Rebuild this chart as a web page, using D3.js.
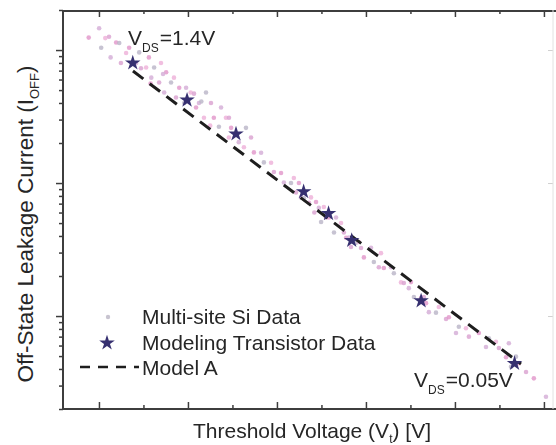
<!DOCTYPE html>
<html><head><meta charset="utf-8">
<script src="https://cdn.jsdelivr.net/npm/d3@7"></script>
<style>
html,body{margin:0;padding:0;background:#fff;}
svg{display:block;font-family:"Liberation Sans",Arial,Helvetica,sans-serif;}
</style>
</head><body>
<svg id="c" width="556" height="445"></svg>
<script>
// Multi-site Si data: threshold voltage (V) and off-state leakage (nA, arbitrary decade)
const siVt = [0.0885,0.1002,0.1025,0.1071,0.1113,0.1193,0.1131,0.1228,0.1305,0.1247,
  0.1339,0.1418,0.1452,0.1530,0.1472,0.1561,0.1588,0.1620,0.1697,0.1676,
  0.1755,0.1733,0.1810,0.1843,0.1866,0.1902,0.1979,0.1958,0.2031,0.2068,
  0.2091,0.2124,0.2203,0.2180,0.2259,0.2291,0.2372,0.2348,0.2427,0.2461,
  0.2485,0.2571,0.2652,0.2629,0.2709,0.2741,0.2822,0.2853,0.2934,0.2966,
  0.3046,0.3078,0.3158,0.3190,0.3214,0.3247,0.3270,0.3303,0.3383,0.3360,
  0.3439,0.3471,0.3496,0.3527,0.3551,0.3584,0.3664,0.3641,0.3720,0.3752,
  0.3777,0.3808,0.3889,0.3921,0.3945,0.3977,0.4057,0.4089,0.4169,0.4145,
  0.4201,0.4282,0.4314,0.4394,0.4426,0.4506,0.4482,0.4539,0.4619,0.4651,
  0.4675,0.4707,0.4787,0.4819,0.4900,0.4932,0.5012,0.5044,0.5124,0.5157,
  0.5269,0.5349,0.5381,0.5461,0.5494,0.5574,0.5606,0.5686,0.5718,0.5799,
  0.5887,0.6023,0.5630,0.2460,0.3832,0.1580,0.1720,0.2150,0.2250,0.3420];
const siIoff = [124,146,104,123,126,114,88,113,95,80,
  104,80,96,74,73,88,62,74,80,57,
  68,48,57,62,44,52,52,40,48,47,
  37,40,48,31,40,31,37,26.5,31,31,
  26,20.3,26,18.6,22,17,16.9,14.3,14.2,12.1,
  11.9,10.1,10.0,10.9,8.5,10.0,7.8,7.7,7.8,7.1,
  7.2,6.5,5.1,6.6,5.5,5.5,5.5,4.25,5.0,4.25,
  3.88,3.9,3.55,3.6,3.25,2.76,3.26,2.55,2.97,2.33,
  2.3,2.33,2.1,1.79,1.77,1.8,1.62,1.39,1.37,1.39,
  1.25,1.07,1.06,1.17,0.95,0.98,0.745,0.83,0.81,0.70,
  0.745,0.585,0.68,0.64,0.575,0.49,0.625,0.495,0.44,0.38,
  0.34,0.247,0.415,22,3.3,56,66,41,27,6.0];

// Modeling transistor data
const starVt = [0.138,0.199,0.254,0.330,0.358,0.384,0.462,0.567];
const starIoff = [80,42,23.4,8.6,5.9,3.7,1.30,0.44];

// Model A (straight line on log axis)
const modelVt = [0.1382,0.5742];
const modelIoff = [69.5,0.436];

// Ticks (no tick labels shown in the original)
const xMajor = [0.1,0.2,0.3,0.4,0.5,0.6];
const xMinor = [0.15,0.25,0.35,0.45,0.55];
const yMajor = [1,10,100];
const yMinor = [0.2,0.3,0.4,0.5,0.6,0.7,0.8,0.9,2,3,4,5,6,7,8,9,20,30,40,50,60,70,80,90,200];

const legendLabels = ["Multi-site Si Data","Modeling Transistor Data","Model A"];

const svg = d3.select("#c");
const L = 63, R = 553, T = 10, B = 409;
const x = d3.scaleLinear().domain([0.0596, 0.6102]).range([L, R]);
const y = d3.scaleLog().domain([0.2, 200]).range([B, T]);

const axisCol = "#3d3d3d";
const dotCols = ["#e39bcc","#d6b0d8","#bdb9ca","#eeb4da","#dca6d2"];

const defs = svg.append("defs");
defs.append("filter").attr("id","soft").append("feGaussianBlur").attr("stdDeviation",0.6);

// Data dots
svg.append("g").attr("filter","url(#soft)").selectAll("circle").data(siVt).join("circle")
  .attr("cx", (d,i)=>x(d)).attr("cy", (d,i)=>y(siIoff[i]))
  .attr("r", 2.3).attr("fill", (d,i)=>dotCols[i%5]).attr("opacity", 0.85);

// Model A line
const line = d3.line().x(d=>x(d[0])).y(d=>y(d[1]));
svg.append("path").datum(modelVt.map((v,i)=>[v, modelIoff[i]]))
  .attr("d", line).attr("fill","none").attr("stroke","#1e1e1e")
  .attr("stroke-width", 3).attr("stroke-dasharray","13,8");

// Stars
const star = d3.symbol().type(d3.symbolStar).size(75);
svg.append("g").selectAll("path").data(starVt).join("path")
  .attr("transform",(d,i)=>`translate(${x(d)},${y(starIoff[i])})`)
  .attr("d", star).attr("fill","#363070");

// Axes
function styleAxis(g){ g.select(".domain").remove(); g.selectAll("line").attr("stroke", axisCol).attr("stroke-width",1.5); }
svg.append("g").attr("transform",`translate(0,${B})`)
  .call(d3.axisBottom(x).tickValues(xMajor).tickSize(-7).tickFormat("")).call(styleAxis);
svg.append("g").attr("transform",`translate(0,${B})`)
  .call(d3.axisBottom(x).tickValues(xMinor).tickSize(-4).tickFormat("")).call(styleAxis);
svg.append("g").attr("transform",`translate(0,${T+1})`)
  .call(d3.axisTop(x).tickValues(xMajor).tickSize(-6).tickFormat("")).call(styleAxis);
svg.append("g").attr("transform",`translate(0,${T+1})`)
  .call(d3.axisTop(x).tickValues(xMinor).tickSize(-3).tickFormat("")).call(styleAxis);
svg.append("g").attr("transform",`translate(${L},0)`)
  .call(d3.axisLeft(y).tickValues(yMajor).tickSize(7).tickFormat("")).call(styleAxis);
svg.append("g").attr("transform",`translate(${L},0)`)
  .call(d3.axisLeft(y).tickValues(yMinor).tickSize(4).tickFormat("")).call(styleAxis);
const rg = svg.append("g").attr("transform",`translate(${R},0)`)
  .call(d3.axisRight(y).tickValues(yMajor).tickSize(-5).tickFormat(""));
rg.select(".domain").remove(); rg.selectAll("line").attr("stroke","#d0d0d0");

// Frame
svg.append("line").attr("x1",L).attr("x2",556).attr("y1",T+1).attr("y2",T+1).attr("stroke",axisCol).attr("stroke-width",2);
svg.append("line").attr("x1",L).attr("x2",556).attr("y1",B).attr("y2",B).attr("stroke",axisCol).attr("stroke-width",2);
svg.append("line").attr("x1",L).attr("x2",L).attr("y1",T).attr("y2",B+1).attr("stroke",axisCol).attr("stroke-width",2);
svg.append("line").attr("x1",R).attr("x2",R).attr("y1",T).attr("y2",B).attr("stroke","#e2e2e2").attr("stroke-width",1);

// Annotations
const txtCol = "#262626";
function vds(xp, yp, val){
  const t = svg.append("text").attr("x",xp).attr("y",yp).attr("font-size",21).attr("fill",txtCol);
  t.append("tspan").text("V");
  t.append("tspan").attr("font-size",12).attr("dy",7).text("DS");
  t.append("tspan").attr("dy",-7).attr("dx",1).text("=" + val);
}
vds(128, 45, "1.4V");
vds(414, 387, "0.05V");

// Legend
const lx = 142, ly = [324, 350, 375];
svg.append("circle").attr("cx",108).attr("cy",317).attr("r",2.2).attr("fill","#c8c4d0");
svg.append("path").attr("transform","translate(107,343)").attr("d",star).attr("fill","#363070");
svg.append("line").attr("x1",80).attr("x2",139).attr("y1",367).attr("y2",367)
  .attr("stroke","#1e1e1e").attr("stroke-width",2.5).attr("stroke-dasharray","10,8");
svg.append("g").selectAll("text").data(legendLabels).join("text")
  .attr("x",lx).attr("y",(d,i)=>ly[i]).attr("font-size",21).attr("fill",txtCol).text(d=>d);

// Axis titles
const xt = svg.append("text").attr("x",312).attr("y",438).attr("text-anchor","middle").attr("font-size",21).attr("fill",txtCol);
xt.append("tspan").text("Threshold Voltage (V");
xt.append("tspan").attr("font-size",12).attr("dy",5).text("t");
xt.append("tspan").attr("dy",-5).text(") [V]");

const yt = svg.append("text").attr("transform","translate(33,224) rotate(-90)").attr("text-anchor","middle").attr("font-size",22.5).attr("fill",txtCol);
yt.append("tspan").text("Off-State Leakage Current (I");
yt.append("tspan").attr("font-size",13).attr("dy",6).text("OFF");
yt.append("tspan").attr("dy",-6).text(")");
</script>
</body></html>
